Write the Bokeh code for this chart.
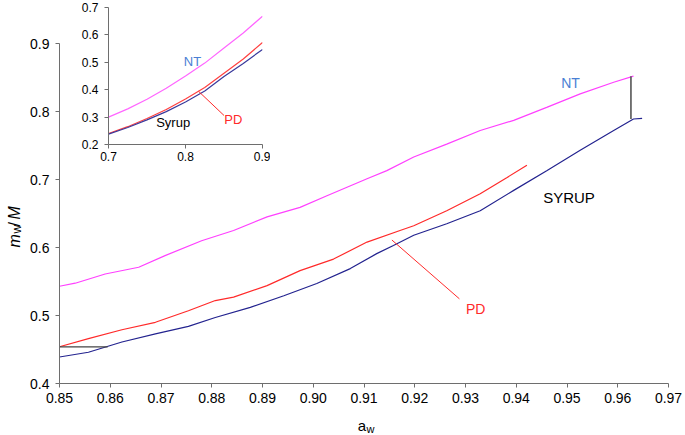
from bokeh.plotting import figure
from bokeh.models import FixedTicker, PrintfTickFormatter, Label, Range1d
from bokeh.embed import file_html
from bokeh.resources import INLINE

# ---------------- data ----------------
nt_aw = [0.850, 0.8531, 0.859, 0.8656, 0.8708, 0.878, 0.8843, 0.8909, 0.8974, 0.9027,
         0.9106, 0.9145, 0.9198, 0.9263, 0.9329, 0.9395, 0.946, 0.9526, 0.9592, 0.9631]
nt_m = [0.543, 0.5475, 0.561, 0.571, 0.588, 0.610, 0.625, 0.645, 0.659, 0.676,
        0.701, 0.713, 0.733, 0.752, 0.772, 0.787, 0.806, 0.826, 0.843, 0.852]

pd_aw = [0.850, 0.8557, 0.8623, 0.8689, 0.8754, 0.8807, 0.8843, 0.8909, 0.8974, 0.904,
         0.9106, 0.9171, 0.9198, 0.9263, 0.9329, 0.9382, 0.9421]
pd_m = [0.454, 0.466, 0.479, 0.490, 0.507, 0.522, 0.527, 0.544, 0.566, 0.583,
        0.608, 0.625, 0.632, 0.654, 0.679, 0.703, 0.721]

syr_aw = [0.850, 0.8557, 0.8623, 0.8689, 0.8754, 0.8807, 0.8876, 0.8942, 0.9007, 0.9073,
          0.9125, 0.9158, 0.9198, 0.9263, 0.9329, 0.9395, 0.946, 0.9526, 0.9592, 0.9631, 0.9648]
syr_m = [0.439, 0.446, 0.461, 0.473, 0.484, 0.497, 0.512, 0.529, 0.547, 0.569,
         0.591, 0.603, 0.618, 0.635, 0.654, 0.684, 0.713, 0.743, 0.772, 0.789, 0.790]

# connector lines
vert_x = [0.9626, 0.9626]
vert_y = [0.852, 0.789]
horiz_x = [0.850, 0.8595]
horiz_y = [0.454, 0.454]

main_xticks = [0.85, 0.86, 0.87, 0.88, 0.89, 0.90, 0.91, 0.92, 0.93, 0.94, 0.95, 0.96, 0.97]
main_yticks = [0.4, 0.5, 0.6, 0.7, 0.8, 0.9]

# inset
ins_aw = [0.7, 0.725, 0.75, 0.775, 0.8, 0.825, 0.85, 0.875, 0.9]
ins_nt = [0.300, 0.330, 0.365, 0.405, 0.450, 0.497, 0.552, 0.607, 0.668]
ins_pd = [0.240, 0.265, 0.295, 0.328, 0.366, 0.408, 0.460, 0.512, 0.572]
ins_syr = [0.238, 0.262, 0.290, 0.320, 0.355, 0.395, 0.448, 0.496, 0.547]
ins_xticks = [0.7, 0.8, 0.9]
ins_yticks = [0.2, 0.3, 0.4, 0.5, 0.6, 0.7]

FONT = "Liberation Sans"
AXIS_COL = "#6e6e6e"
NT_COL = "#ff40ff"
PD_COL = "#ff2a2a"
SYR_COL = "#23238f"
LBL_BLUE = "#4a7fd4"


def style_axes(fig, size):
    for ax in (fig.xaxis[0], fig.yaxis[0]):
        ax.axis_line_color = AXIS_COL
        ax.major_tick_line_color = AXIS_COL
        ax.minor_tick_line_color = None
        ax.major_tick_in = 0
        ax.major_tick_out = 4
        ax.major_label_text_font = FONT
        ax.major_label_text_font_size = size
        ax.major_label_text_color = "black"
    fig.grid.visible = False
    fig.outline_line_color = None
    fig.background_fill_color = None
    fig.border_fill_color = None


# ---------------- main figure ----------------
p = figure(width=677, height=427, output_backend="svg", toolbar_location=None,
           x_range=Range1d(0.85, 0.97), y_range=Range1d(0.4, 0.9),
           min_border_left=51, min_border_right=17, min_border_top=35, min_border_bottom=52)
style_axes(p, "14px")
p.xaxis.ticker = FixedTicker(ticks=main_xticks)
p.yaxis.ticker = FixedTicker(ticks=main_yticks)
p.xaxis.formatter = PrintfTickFormatter(format="%.2f")
p.yaxis.formatter = PrintfTickFormatter(format="%.1f")
p.xaxis.major_label_standoff = 5
p.yaxis.major_label_standoff = 6

p.line(nt_aw, nt_m, line_color=NT_COL, line_width=1.2)
p.line(pd_aw, pd_m, line_color=PD_COL, line_width=1.2)
p.line(syr_aw, syr_m, line_color=SYR_COL, line_width=1.2)
p.line(vert_x, vert_y, line_color="#555555", line_width=1.6)
p.line(horiz_x, horiz_y, line_color="#444444", line_width=1.3)

# PD leader line
p.line([0.9155, 0.9288], [0.611, 0.5245], line_color=PD_COL, line_width=1)

p.add_layout(Label(x=0.9507, y=0.8416, text="NT", text_align="center", text_baseline="middle",
                   text_font=FONT, text_font_size="14px", text_color=LBL_BLUE))
p.add_layout(Label(x=0.9504, y=0.674, text="SYRUP", text_align="center", text_baseline="middle",
                   text_font=FONT, text_font_size="15px", text_color="black"))
p.add_layout(Label(x=0.932, y=0.51, text="PD", text_align="center", text_baseline="middle",
                   text_font=FONT, text_font_size="14px", text_color=PD_COL))

p.styles = {"position": "absolute", "left": "8px", "top": "8px"}

# ---------------- inset ----------------
ins = figure(width=200, height=170, output_backend="svg", toolbar_location=None,
             x_range=Range1d(0.7, 0.9), y_range=Range1d(0.2, 0.7),
             min_border_left=38, min_border_right=8, min_border_top=7, min_border_bottom=26)
style_axes(ins, "12px")
ins.xaxis.ticker = FixedTicker(ticks=ins_xticks)
ins.yaxis.ticker = FixedTicker(ticks=ins_yticks)
ins.xaxis.formatter = PrintfTickFormatter(format="%.1f")
ins.yaxis.formatter = PrintfTickFormatter(format="%.1f")
ins.xaxis.major_label_standoff = 3
ins.yaxis.major_label_standoff = 6

ins.line(ins_aw, ins_nt, line_color="#ff66ff", line_width=1.2)
ins.line(ins_aw, ins_pd, line_color="#ff4040", line_width=1.2)
ins.line(ins_aw, ins_syr, line_color="#3a3a9c", line_width=1.2)
ins.line([0.817, 0.850], [0.394, 0.306], line_color=PD_COL, line_width=1)

ins.add_layout(Label(x=0.809, y=0.504, text="NT", text_align="center", text_baseline="middle",
                     text_font=FONT, text_font_size="13px", text_color=LBL_BLUE))
ins.add_layout(Label(x=0.862, y=0.292, text="PD", text_align="center", text_baseline="middle",
                     text_font=FONT, text_font_size="13px", text_color=PD_COL))
ins.add_layout(Label(x=0.784, y=0.279, text="Syrup", text_align="center", text_baseline="middle",
                     text_font=FONT, text_font_size="13px", text_color="black"))

ins.styles = {"position": "absolute", "left": "70px", "top": "0px"}

# ---------------- overlay for the axis titles (page pixel coordinates) ----------------
ov = figure(width=685, height=435, output_backend="svg", toolbar_location=None,
            x_range=Range1d(0, 685), y_range=Range1d(435, 0),
            x_axis_type=None, y_axis_type=None, min_border=0)
ov.grid.visible = False
ov.outline_line_color = None
ov.background_fill_color = None
ov.border_fill_color = None

# x title: a_w
ov.add_layout(Label(x=365.5, y=425, text="a", text_align="right", text_baseline="alphabetic",
                    text_font=FONT, text_font_size="15px", text_color="black"))
ov.add_layout(Label(x=366, y=428, text="w", text_align="left", text_baseline="alphabetic",
                    text_font=FONT, text_font_size="11px", text_color="black"))

# y title: m_w/M (rotated)
ang = 1.5707963
ov.add_layout(Label(x=13.5, y=247, text="m", angle=ang, text_align="left",
                    text_baseline="alphabetic", text_font=FONT, text_font_style="italic",
                    text_font_size="16px", text_color="black"))
ov.add_layout(Label(x=16.8, y=233, text="w", angle=ang, text_align="left",
                    text_baseline="alphabetic", text_font=FONT,
                    text_font_size="12px", text_color="black"))
ov.add_layout(Label(x=13.5, y=226, text="/", angle=ang, text_align="left",
                    text_baseline="alphabetic", text_font=FONT,
                    text_font_size="16px", text_color="black"))
ov.add_layout(Label(x=13.5, y=219, text="M", angle=ang, text_align="left",
                    text_baseline="alphabetic", text_font=FONT, text_font_style="italic",
                    text_font_size="16px", text_color="black"))

ov.styles = {"position": "absolute", "left": "0px", "top": "0px"}

open("out.html", "w").write(file_html([p, ins, ov], INLINE))
